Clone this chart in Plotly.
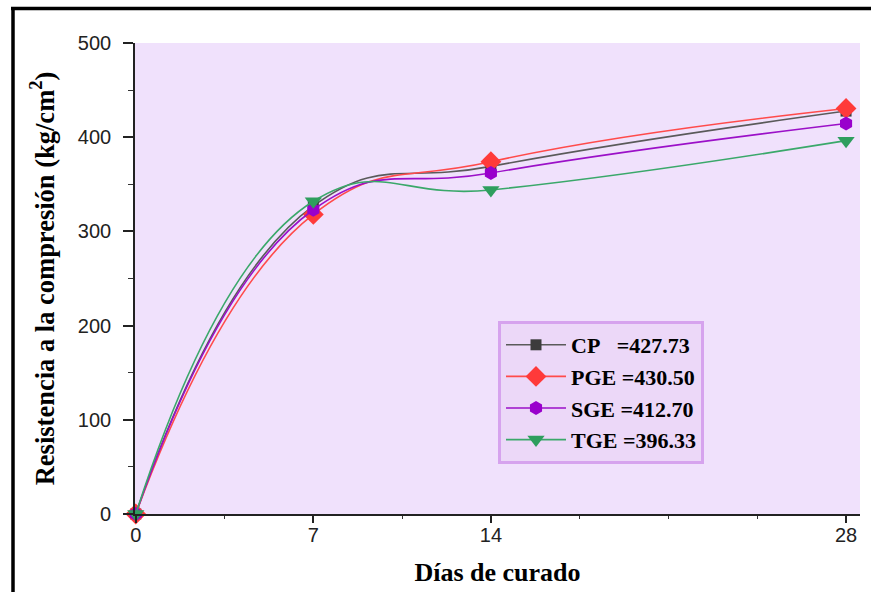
import plotly.graph_objects as go

days = [0, 7, 14, 28]
series_names = ["CP", "PGE", "SGE", "TGE"]
legend_labels = ["CP\u00a0\u00a0\u00a0=427.73", "PGE =430.50", "SGE =412.70", "TGE =396.33"]
cp = [0, 327, 369, 427.73]
pge = [0, 318, 374, 430.50]
sge = [0, 323, 362, 414.5]
tge = [0, 332, 344, 396.33]
x_tick_vals = [0, 7, 14, 28]
y_tick_vals = [0, 100, 200, 300, 400, 500]

values = [cp, pge, sge, tge]
line_colors = ["#5a5a5a", "#ff4b4b", "#9b10c8", "#3aa86a"]
marker_colors = ["#3c3c3c", "#ff3a3a", "#9900cc", "#2e9e5e"]
symbols = ["square", "diamond", "hexagon", "triangle-down"]
sizes = [11, 16, 14, 15]

fig = go.Figure()
for name, lab, v, lc, mc, sym, sz in zip(series_names, legend_labels, values,
                                          line_colors, marker_colors, symbols, sizes):
    fig.add_trace(go.Scatter(
        x=days, y=v, name=lab, mode="lines+markers",
        line=dict(color=lc, width=1.6, shape="spline", smoothing=1.3),
        marker=dict(color=mc, symbol=sym, size=sz, line=dict(width=0)),
        cliponaxis=False,
    ))

L, R, T, B = 135, 11, 43, 78
W, H = 871, 592
pw = W - L - R
ph = H - T - B

def px_x(p):
    return (p - L) / pw

def px_y(p):
    return (H - B - p) / ph

fig.update_layout(
    width=W, height=H,
    margin=dict(l=L, r=R, t=T, b=B, pad=0),
    paper_bgcolor="white",
    plot_bgcolor="#f0e1fc",
    showlegend=True,
    legend=dict(
        x=px_x(498), y=px_y(321), xanchor="left", yanchor="top",
        bgcolor="#ecd8f8", bordercolor="#d6a3ee", borderwidth=3,
        font=dict(family="Liberation Serif", size=22, color="black", weight="bold"),
        itemwidth=60, tracegroupgap=0,
    ),
    xaxis=dict(
        range=[-0.03, 28.55],
        tickmode="array", tickvals=x_tick_vals, ticktext=[str(t) for t in x_tick_vals],
        ticks="outside", ticklen=7, tickwidth=1.5, tickcolor="#222",
        ticklabelstandoff=-5,
        minor=dict(dtick=3.5, tick0=0, ticks="outside", ticklen=3, tickwidth=1.2, tickcolor="#333"),
        showline=True, linecolor="#222", linewidth=1.6,
        showgrid=False, zeroline=False,
        tickfont=dict(family="Liberation Sans", size=20, color="#222"),
        title=dict(text="<b>Días de curado</b>", standoff=18,
                   font=dict(family="Liberation Serif", size=26, color="black")),
    ),
    yaxis=dict(
        range=[0, 500],
        tickmode="array", tickvals=y_tick_vals,
        ticks="outside", ticklen=10, tickwidth=1.5, tickcolor="#222",
        ticklabelstandoff=8,
        minor=dict(dtick=50, tick0=0, ticks="outside", ticklen=5, tickwidth=1.2, tickcolor="#333"),
        showline=True, linecolor="#222", linewidth=1.6,
        showgrid=False, zeroline=False,
        tickfont=dict(family="Liberation Sans", size=20, color="#222"),
        title=dict(text="<b>Resistencia a la compresión (kg/cm<sup>2</sup>)</b>", standoff=16,
                   font=dict(family="Liberation Serif", size=26.5, color="black")),
    ),
)

# outer black frame (left and top edges visible)
fig.add_shape(type="line", xref="paper", yref="paper",
              x0=px_x(13), x1=px_x(13), y0=px_y(8), y1=px_y(600),
              line=dict(color="black", width=3.5))
fig.add_shape(type="line", xref="paper", yref="paper",
              x0=px_x(11), x1=px_x(880), y0=px_y(8.5), y1=px_y(8.5),
              line=dict(color="black", width=3.5))

fig.write_html("out.html")
